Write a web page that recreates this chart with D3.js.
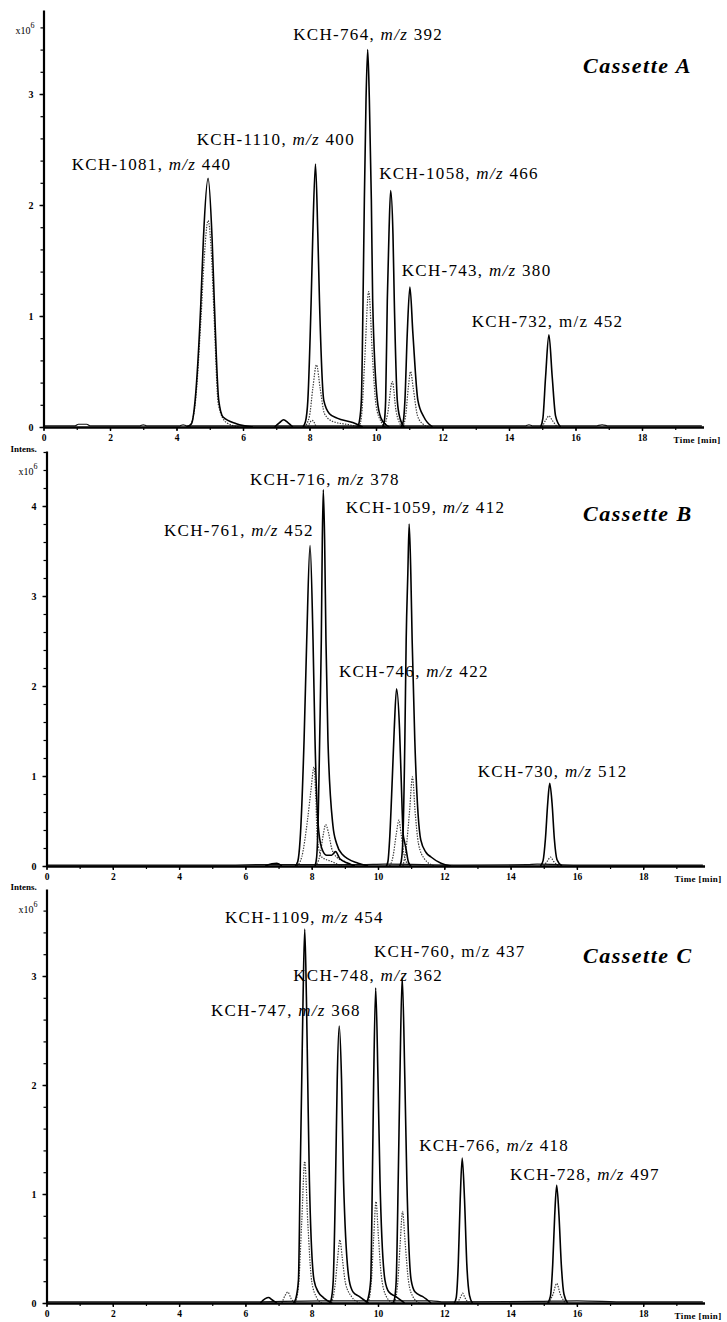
<!DOCTYPE html>
<html><head><meta charset="utf-8">
<script src="https://cdn.jsdelivr.net/npm/d3@7"></script>
<style>body{margin:0;background:#fff}svg{display:block}</style>
</head><body>
<svg id="chart" width="727" height="1322"></svg>
<script>
// ================= DATA =================
const timeTicks = [0, 2, 4, 6, 8, 10, 12, 14, 16, 18];
const intensityTicksA = [0, 1, 2, 3];
const intensityTicksB = [0, 1, 2, 3, 4];
const intensityTicksC = [0, 1, 2, 3];

// ---- Cassette A ----
const compoundsA = ["KCH-1081", "KCH-1110", "KCH-764", "KCH-1058", "KCH-743", "KCH-732"];
const mzA = [440, 400, 392, 466, 380, 452];
const mzItalicA = [true, true, true, true, true, false];
const solidA = [
  [[4.3,0],[4.45,0.03],[4.56,0.24],[4.73,1.1],[4.81,1.7],[4.95,2.24],[5.07,1.7],[5.14,1.1],[5.27,0.24],[5.4,0.09],[5.8,0.03],[6.3,0]],
  [[7.8,0],[7.88,0.05],[7.95,0.24],[8.05,1.14],[8.1,1.74],[8.18,2.37],[8.25,1.74],[8.3,1.14],[8.43,0.24],[8.6,0.12],[8.83,0.08],[9.3,0.04],[9.6,0]],
  [[9.45,0],[9.5,0.05],[9.56,0.24],[9.61,1.14],[9.65,2.05],[9.7,2.95],[9.75,3.40],[9.8,2.95],[9.86,2.05],[9.9,1.14],[10.04,0.24],[10.15,0.08],[10.3,0.02],[10.4,0]],
  [[10.2,0],[10.25,0.05],[10.29,0.24],[10.34,1.14],[10.39,1.74],[10.44,2.13],[10.51,1.74],[10.55,1.14],[10.64,0.24],[10.72,0.08],[10.85,0]],
  [[10.75,0],[10.82,0.05],[10.87,0.24],[10.94,0.84],[11.02,1.26],[11.11,0.84],[11.26,0.24],[11.44,0.09],[11.7,0]],
  [[14.95,0],[15.02,0.08],[15.1,0.45],[15.2,0.83],[15.3,0.45],[15.4,0.1],[15.55,0]],
  [[6.95,0],[7.1,0.04],[7.22,0.065],[7.35,0.04],[7.5,0]]
];
const dottedA = [
  [[4.4,0],[4.56,0.2],[4.74,1.0],[4.83,1.5],[4.95,1.86],[5.06,1.5],[5.13,1.0],[5.26,0.2],[5.5,0.04],[5.9,0]],
  [[7.85,0],[8.0,0.1],[8.1,0.35],[8.21,0.56],[8.32,0.35],[8.45,0.12],[8.7,0.05],[9.2,0.02],[9.5,0]],
  [[7.95,0],[8.08,0.06],[8.2,0]],
  [[9.5,0],[9.58,0.15],[9.66,0.6],[9.78,1.22],[9.9,0.6],[10.0,0.2],[10.15,0.05],[10.3,0]],
  [[10.25,0],[10.35,0.12],[10.49,0.41],[10.6,0.15],[10.72,0.03],[10.8,0]],
  [[10.8,0],[10.9,0.12],[10.97,0.35],[11.04,0.5],[11.12,0.35],[11.25,0.1],[11.4,0.03],[11.6,0]],
  [[15.0,0],[15.12,0.07],[15.2,0.1],[15.3,0.06],[15.45,0]]
];
const baselineA = [[0,0.01],[0.95,0.01],[1.05,0.025],[1.3,0.025],[1.4,0.01],[2.9,0.01],[3.0,0.02],[3.1,0.01],[4.1,0.01],[4.2,0.02],[4.3,0.01],[14.5,0.01],[14.6,0.02],[14.7,0.01],[16.6,0.01],[16.8,0.02],[17.0,0.01],[19.8,0.01]];

// ---- Cassette B ----
const compoundsB = ["KCH-761", "KCH-716", "KCH-1059", "KCH-746", "KCH-730"];
const mzB = [452, 378, 412, 422, 512];
const mzItalicB = [true, true, true, true, true];
const solidB = [
  [[7.5,0],[7.58,0.05],[7.65,0.29],[7.77,1.4],[7.85,2.51],[7.95,3.56],[8.04,2.51],[8.1,1.4],[8.19,0.48],[8.3,0.2],[8.45,0.12],[8.6,0.12],[8.72,0.16],[8.85,0.08],[9.1,0.03],[9.3,0]],
  [[8.1,0],[8.15,0.1],[8.2,0.6],[8.24,1.4],[8.29,2.51],[8.32,3.62],[8.35,4.18],[8.39,3.62],[8.43,2.51],[8.49,1.4],[8.64,0.45],[8.75,0.25],[8.92,0.13],[9.4,0.03],[9.7,0]],
  [[10.65,0],[10.7,0.05],[10.75,0.29],[10.81,1.4],[10.85,2.51],[10.9,3.25],[10.94,3.8],[10.99,3.25],[11.03,2.51],[11.11,1.4],[11.29,0.29],[11.45,0.15],[11.6,0.1],[11.9,0.03],[12.2,0]],
  [[10.25,0],[10.3,0.05],[10.35,0.29],[10.43,0.96],[10.49,1.52],[10.56,1.97],[10.65,1.52],[10.7,0.96],[10.76,0.35],[10.8,0.27],[10.84,0.2],[10.92,0.04],[11.0,0]],
  [[14.9,0],[14.98,0.06],[15.05,0.3],[15.12,0.7],[15.18,0.92],[15.25,0.7],[15.32,0.3],[15.4,0.07],[15.55,0]],
  [[6.6,0],[6.8,0.025],[6.95,0.03],[7.1,0]]
];
const dottedB = [
  [[7.55,0],[7.7,0.1],[7.87,0.5],[7.98,0.85],[8.07,1.1],[8.12,0.8],[8.17,0.3],[8.3,0.1],[8.6,0.05],[8.9,0]],
  [[8.1,0],[8.25,0.12],[8.35,0.35],[8.42,0.46],[8.5,0.38],[8.6,0.2],[8.75,0.1],[9.0,0.05],[9.3,0]],
  [[10.35,0],[10.45,0.1],[10.55,0.35],[10.63,0.51],[10.7,0.35],[10.8,0.1],[10.95,0]],
  [[10.75,0],[10.85,0.2],[10.95,0.6],[11.04,0.99],[11.12,0.6],[11.22,0.25],[11.4,0.08],[11.7,0]],
  [[15.0,0],[15.12,0.06],[15.2,0.1],[15.3,0.05],[15.45,0]]
];
const baselineB = [[0,0.01],[5.5,0.01],[6.5,0.015],[9.5,0.015],[10.2,0.02],[12.5,0.01],[14.5,0.015],[14.8,0.02],[16.0,0.01],[19.8,0.01]];

// ---- Cassette C ----
const compoundsC = ["KCH-1109", "KCH-747", "KCH-748", "KCH-760", "KCH-766", "KCH-728"];
const mzC = [454, 368, 362, 437, 418, 497];
const mzItalicC = [true, true, true, false, true, true];
const solidC = [
  [[7.45,0],[7.52,0.04],[7.6,0.21],[7.65,1.13],[7.7,2.05],[7.74,2.81],[7.79,3.43],[7.84,2.81],[7.88,2.05],[7.93,1.13],[8.07,0.21],[8.2,0.1],[8.35,0.05],[8.6,0]],
  [[8.55,0],[8.6,0.05],[8.65,0.21],[8.72,1.13],[8.77,2.05],[8.83,2.54],[8.9,2.05],[8.96,1.13],[9.13,0.21],[9.25,0.1],[9.43,0.06],[9.7,0]],
  [[9.65,0],[9.7,0.04],[9.78,0.21],[9.83,1.13],[9.87,2.05],[9.93,2.89],[10.0,2.05],[10.06,1.13],[10.21,0.21],[10.33,0.1],[10.53,0.06],[10.8,0]],
  [[10.45,0],[10.5,0.04],[10.55,0.21],[10.61,1.13],[10.66,2.05],[10.73,2.99],[10.81,2.05],[10.87,1.13],[11.0,0.21],[11.12,0.1],[11.34,0.06],[11.6,0]],
  [[12.3,0],[12.36,0.05],[12.42,0.35],[12.48,0.95],[12.54,1.33],[12.61,0.95],[12.68,0.35],[12.76,0.07],[12.85,0]],
  [[15.12,0],[15.2,0.06],[15.27,0.35],[15.33,0.8],[15.39,1.08],[15.46,0.8],[15.53,0.35],[15.61,0.08],[15.72,0]],
  [[6.45,0],[6.6,0.04],[6.7,0.05],[6.8,0.03],[6.95,0]]
];
const dottedC = [
  [[7.5,0],[7.6,0.15],[7.7,0.75],[7.79,1.3],[7.88,0.75],[8.0,0.2],[8.15,0.05],[8.3,0]],
  [[7.1,0],[7.2,0.07],[7.28,0.1],[7.38,0.04],[7.5,0]],
  [[8.6,0],[8.7,0.15],[8.78,0.4],[8.85,0.58],[8.92,0.42],[9.02,0.18],[9.2,0.06],[9.45,0]],
  [[9.7,0],[9.8,0.2],[9.87,0.6],[9.94,0.93],[10.01,0.62],[10.1,0.25],[10.25,0.06],[10.45,0]],
  [[10.5,0],[10.6,0.2],[10.67,0.55],[10.74,0.84],[10.82,0.55],[10.92,0.2],[11.05,0.06],[11.25,0]],
  [[12.4,0],[12.5,0.06],[12.55,0.09],[12.62,0.05],[12.72,0]],
  [[15.15,0],[15.28,0.08],[15.39,0.18],[15.5,0.08],[15.65,0]]
];
const baselineC = [[0,0.01],[6.0,0.01],[8.3,0.02],[9.5,0.02],[11.6,0.02],[12.0,0.01],[14.8,0.015],[16.0,0.02],[17.5,0.01],[19.8,0.01]];

const titles = ["Cassette A", "Cassette B", "Cassette C"];

// ================= LAYOUT (pixels) =================
const panels = [
  { title: titles[0], ticks: intensityTicksA, names: compoundsA, mz: mzA, ital: mzItalicA,
    solid: solidA, dotted: dottedA, base: baselineA,
    left: 43.5, perMin: 33.25, y0: 427, top: 10, perUnit: 111, intens: false,
    titlePos: [583, 73],
    labelPos: [[71.7,170],[196.7,145],[293.3,40],[379.3,179],[401.7,276],[471.7,327]] },
  { title: titles[1], ticks: intensityTicksB, names: compoundsB, mz: mzB, ital: mzItalicB,
    solid: solidB, dotted: dottedB, base: baselineB,
    left: 46.5, perMin: 33.15, y0: 866, top: 451, perUnit: 90, intens: true,
    titlePos: [583, 521],
    labelPos: [[164,536],[250,485],[345.7,513],[339,677],[477.7,777]] },
  { title: titles[2], ticks: intensityTicksC, names: compoundsC, mz: mzC, ital: mzItalicC,
    solid: solidC, dotted: dottedC, base: baselineC,
    left: 46.5, perMin: 33.15, y0: 1303, top: 889, perUnit: 109, intens: true,
    titlePos: [583, 963],
    labelPos: [[225,923],[211,1016],[293.3,981],[374,957],[419.3,1151],[510,1180]] }
];
const tMax = 19.85;
const serif = "'Liberation Serif','Times New Roman',Times,serif";

const svg = d3.select("#chart");
svg.append("rect").attr("width", 727).attr("height", 1322).attr("fill", "#fff");

panels.forEach(p => {
  const g = svg.append("g");
  const yMax = (p.y0 - p.top) / p.perUnit;
  const x = d3.scaleLinear().domain([0, tMax]).range([p.left, p.left + tMax * p.perMin]);
  const y = d3.scaleLinear().domain([0, yMax]).range([p.y0, p.top]);
  const line = d3.line().x(d => x(d[0])).y(d => y(d[1])).curve(d3.curveMonotoneX);

  // dotted traces
  g.append("g").selectAll("path").data(p.dotted).join("path")
    .attr("d", line).attr("fill", "none").attr("stroke", "#3a3a3a")
    .attr("stroke-width", 1.2).attr("stroke-dasharray", "1.4 1.3");
  // baseline
  g.append("path").attr("d", line(p.base)).attr("fill", "none")
    .attr("stroke", "#111").attr("stroke-width", 1.2);
  // solid traces
  g.append("g").selectAll("path").data(p.solid).join("path")
    .attr("d", line).attr("fill", "none").attr("stroke", "#000")
    .attr("stroke-width", 1.6).attr("stroke-linejoin", "round");

  // y axis minor ticks
  const minorY = d3.range(0, yMax + 1e-9, 0.2);
  g.append("g").attr("transform", `translate(${p.left},0)`)
    .call(d3.axisLeft(y).tickValues(minorY).tickSize(3).tickFormat(""))
    .call(a => a.select(".domain").remove())
    .selectAll("line").attr("stroke", "#000").attr("stroke-width", 1.2);
  // y axis major
  const ya = g.append("g").attr("transform", `translate(${p.left},0)`)
    .call(d3.axisLeft(y).tickValues(p.ticks).tickSize(4).tickPadding(6).tickSizeOuter(0).tickFormat(d3.format("d")));
  ya.select(".domain").attr("stroke", "#000").attr("stroke-width", 2.2);
  ya.selectAll("text").attr("font-family", serif).attr("font-size", 10).attr("font-weight", "bold").attr("fill", "#000");
  ya.selectAll("line").attr("stroke-width", 1.4);

  // x axis minor
  g.append("g").attr("transform", `translate(0,${p.y0})`)
    .call(d3.axisBottom(x).tickValues(d3.range(0, 20, 1)).tickSize(3).tickFormat(""))
    .call(a => a.select(".domain").remove())
    .selectAll("line").attr("stroke", "#000").attr("stroke-width", 1.2);
  const xa = g.append("g").attr("transform", `translate(0,${p.y0})`)
    .call(d3.axisBottom(x).tickValues(timeTicks).tickSize(4).tickPadding(3).tickSizeOuter(0).tickFormat(d3.format("d")));
  xa.select(".domain").attr("stroke", "#000").attr("stroke-width", 2.4);
  xa.selectAll("text").attr("font-family", serif).attr("font-size", 9.5).attr("font-weight", "bold").attr("fill", "#000");
  xa.selectAll("line").attr("stroke-width", 1.4);

  // axis labels
  g.append("text").attr("x", x(tMax) - 30).attr("y", p.y0 + 16)
    .attr("font-family", serif).attr("font-size", 9).attr("font-weight", "bold")
    .attr("letter-spacing", 0.4).text("Time [min]");
  const xt = g.append("text").attr("x", p.left - 28).attr("y", p.top + 24)
    .attr("font-family", serif).attr("font-size", 10);
  xt.append("tspan").text("x10");
  xt.append("tspan").attr("dy", -6).attr("font-size", 8).text("6");
  if (p.intens) {
    g.append("text").attr("x", p.left - 36).attr("y", p.top + 1)
      .attr("font-family", serif).attr("font-size", 9).attr("font-weight", "bold")
      .text("Intens.");
  }

  // title
  g.append("text").attr("x", p.titlePos[0]).attr("y", p.titlePos[1])
    .attr("font-family", serif).attr("font-size", 22).attr("font-weight", "bold")
    .attr("font-style", "italic").attr("letter-spacing", 1.5).text(p.title);

  // peak labels
  p.names.forEach((n, i) => {
    const t = g.append("text").attr("x", p.labelPos[i][0]).attr("y", p.labelPos[i][1])
      .attr("font-family", serif).attr("font-size", 17).attr("letter-spacing", 1.3).attr("fill", "#000");
    t.append("tspan").text(n + ", ");
    t.append("tspan").attr("font-style", p.ital[i] ? "italic" : "normal").text("m/z");
    t.append("tspan").text(" " + p.mz[i]);
  });
});
</script>
</body></html>
